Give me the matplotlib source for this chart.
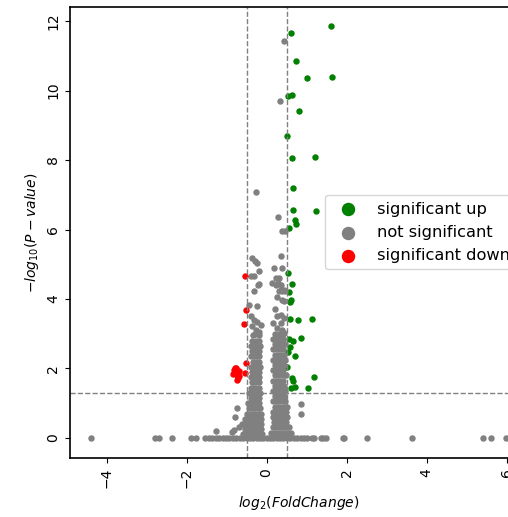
import numpy as np
import matplotlib
matplotlib.use('Agg')
import matplotlib.pyplot as plt

# --- significant up (green) ---
up_x = [1.61, 0.60, 0.725, 1.02, 1.63, 0.53, 0.64, 0.80, 0.52, 0.64, 1.20, 0.66,
        0.66, 1.23, 0.71, 0.725, 0.55, 0.53, 0.64, 0.56, 0.60, 0.575, 0.575, 0.79,
        1.125, 0.56, 0.67, 0.85, 0.58, 0.53, 0.71, 0.52, 0.64, 0.66, 1.18, 0.60,
        0.70, 1.04]
up_y = [11.86, 11.67, 10.85, 10.36, 10.40, 9.85, 9.88, 9.42, 8.70, 8.07, 8.10, 7.19,
        6.56, 6.53, 6.27, 6.15, 6.03, 4.75, 4.44, 4.19, 3.97, 3.90, 3.43, 3.40,
        3.43, 2.85, 2.80, 2.89, 2.63, 2.46, 2.35, 2.03, 1.72, 1.65, 1.75, 1.43,
        1.46, 1.45]

# --- significant down (red) ---
down_x = [-0.54, -0.51, -0.57, -0.51, -0.55, -0.82, -0.80, -0.78, -0.75, -0.72,
          -0.70, -0.68, -0.84, -0.76, -0.73]
down_y = [4.67, 3.67, 3.29, 2.15, 1.86, 1.95, 2.02, 1.88, 1.80, 1.72,
          1.92, 1.78, 1.85, 2.00, 1.68]

# --- not significant (grey) ---
# points sitting on y = 0
base_x = [-4.38, -2.78, -2.68, -2.36, -1.88, -1.76,
          -1.53, -1.44, -1.36, -1.27, -1.18, -1.10, -1.01, -0.93, -0.84, -0.76,
          -0.67, -0.59, -0.50, -0.42, -0.33, -0.25, -0.16, -0.08, 0.0, 0.08,
          0.17, 0.25, 0.34, 0.42, 0.51, 0.59, 0.68, 0.76, 0.85, 0.93, 1.02,
          1.14, 1.18, 1.35, 1.40, 1.48, 1.92, 1.94, 2.52, 3.64, 5.42, 5.60, 5.98]

# dense left cloud, read row by row (row height, x positions in that row)
left_rows_y = [2.95, 2.80, 2.65, 2.50, 2.35, 2.20, 2.05, 1.90, 1.75, 1.60,
               1.45, 1.30, 1.15, 1.00, 0.85, 0.70, 0.55, 0.40, 0.25, 0.12]
left_rows_x = [[-0.33, -0.20],
               [-0.37, -0.27, -0.19],
               [-0.39, -0.31, -0.23, -0.17],
               [-0.36, -0.28, -0.20],
               [-0.39, -0.32, -0.25, -0.18],
               [-0.35, -0.27, -0.19],
               [-0.38, -0.31, -0.24, -0.17],
               [-0.36, -0.28, -0.20],
               [-0.39, -0.32, -0.25, -0.18],
               [-0.36, -0.28, -0.20],
               [-0.40, -0.33, -0.26, -0.19],
               [-0.43, -0.36, -0.29, -0.22, -0.16],
               [-0.40, -0.33, -0.26, -0.19],
               [-0.46, -0.39, -0.32, -0.25, -0.18],
               [-0.43, -0.36, -0.29, -0.22, -0.16],
               [-0.50, -0.42, -0.35, -0.28, -0.21, -0.15],
               [-0.54, -0.47, -0.40, -0.33, -0.26, -0.19, -0.14],
               [-0.57, -0.50, -0.43, -0.36, -0.29, -0.22, -0.15],
               [-0.55, -0.48, -0.41, -0.34, -0.27, -0.20, -0.13],
               [-0.59, -0.52, -0.45, -0.38, -0.31, -0.24, -0.17, -0.12]]

# dense right cloud, read row by row
right_rows_y = [3.00, 2.85, 2.70, 2.55, 2.40, 2.25, 2.10, 1.95, 1.80, 1.65,
                1.50, 1.35, 1.20, 1.05, 0.90, 0.75, 0.60, 0.45, 0.30, 0.15]
right_rows_x = [[0.20, 0.31, 0.42],
                [0.17, 0.25, 0.33, 0.41],
                [0.21, 0.29, 0.37, 0.45],
                [0.17, 0.25, 0.33, 0.41],
                [0.20, 0.28, 0.36, 0.44],
                [0.16, 0.24, 0.32, 0.40, 0.47],
                [0.20, 0.28, 0.36, 0.44],
                [0.17, 0.25, 0.33, 0.41],
                [0.20, 0.28, 0.36, 0.44, 0.48],
                [0.16, 0.24, 0.32, 0.40],
                [0.20, 0.28, 0.36, 0.44],
                [0.17, 0.25, 0.33, 0.41, 0.47],
                [0.20, 0.28, 0.36, 0.44],
                [0.16, 0.24, 0.32, 0.40, 0.47],
                [0.20, 0.28, 0.36, 0.44, 0.50],
                [0.17, 0.25, 0.33, 0.41, 0.48],
                [0.16, 0.23, 0.30, 0.37, 0.44, 0.52],
                [0.18, 0.26, 0.34, 0.42, 0.49],
                [0.15, 0.22, 0.29, 0.36, 0.43, 0.50, 0.57],
                [0.12, 0.19, 0.26, 0.33, 0.40, 0.47, 0.54, 0.62]]

# scattered grey points above the clouds and around them
scatter_x = [-0.36, -0.27, -0.40, -0.32, -0.23, -0.15, -0.44, -0.23, -0.32, -0.19,
             -0.19, -0.40, -0.32, -0.36, -0.30, -0.25, -0.21, -0.27, -0.20, -0.30,
             -0.73, -0.78, -0.61, -0.82, -0.875, -1.26, -0.69,
             0.27, 0.39, 0.43, 0.35, 0.27, 0.35, 0.43, 0.39, 0.43, 0.35,
             0.43, 0.35, 0.225, 0.225, 0.31, 0.14, 0.18, 0.375, 0.35, 0.46,
             0.39, 0.31, 0.29, 0.39, 0.45, 0.29, 0.33, 0.43, 0.20, 0.25,
             0.16, 0.85, 0.85]
scatter_y = [3.21, 3.11, 3.50, 3.40, 3.35, 3.26, 3.84, 3.79, 4.22, 4.43,
             4.80, 4.67, 4.67, 5.19, 5.09, 5.05, 4.41, 7.09, 3.05, 3.00,
             0.85, 0.61, 0.41, 0.22, 0.17, 0.20, 0.32,
             3.16, 3.11, 3.02, 3.31, 3.50, 3.55, 3.45, 3.98, 3.95, 4.27,
             4.27, 4.41, 4.41, 4.60, 4.60, 4.46, 4.90, 4.90, 5.23, 4.24,
             4.22, 4.24, 4.47, 5.97, 5.97, 6.37, 9.69, 11.43, 3.70, 4.05,
             3.30, 0.97, 0.70]

fc_cut = 0.5
p_cut = 1.301  # -log10(0.05)

grey_x = list(base_x)
grey_y = [0.0] * len(base_x)
for ys, xs in list(zip(left_rows_y, left_rows_x)) + list(zip(right_rows_y, right_rows_x)):
    grey_x += xs
    grey_y += [ys] * len(xs)
grey_x += scatter_x
grey_y += scatter_y

fig = plt.figure(figsize=(5.08, 5.17), dpi=100)
# the original picture is cropped on the right, so the axes run past the figure edge
ax = fig.add_axes([0.138, 0.114, 0.900, 0.872])

ax.scatter(up_x, up_y, s=13, color='green', label='significant up')
ax.scatter(grey_x, grey_y, s=13, color='grey', label='not significant')
ax.scatter(down_x, down_y, s=13, color='red', label='significant down')

ax.axvline(-fc_cut, color='grey', linestyle='--', linewidth=1)
ax.axvline(fc_cut, color='grey', linestyle='--', linewidth=1)
ax.axhline(p_cut, color='grey', linestyle='--', linewidth=1)

ax.set_xlim(-4.91, 6.52)
ax.set_ylim(-0.58, 12.40)
ax.set_xticks([-4, -2, 0, 2, 4, 6])
ax.set_yticks([0, 2, 4, 6, 8, 10, 12])
plt.setp(ax.get_xticklabels(), rotation=90)
plt.setp(ax.get_yticklabels(), rotation=90, va='center')
for sp in ax.spines.values():
    sp.set_linewidth(1.2)

ax.set_xlabel(r'$log_2(FoldChange)$', fontsize=10)
ax.set_ylabel(r'$-log_{10}(P-value)$', fontsize=10)

ax.legend(loc='upper left', bbox_to_anchor=(0.558, 0.583), borderaxespad=0,
          markerscale=2.4, fontsize=11.7)

fig.savefig('out.png', dpi=100)
